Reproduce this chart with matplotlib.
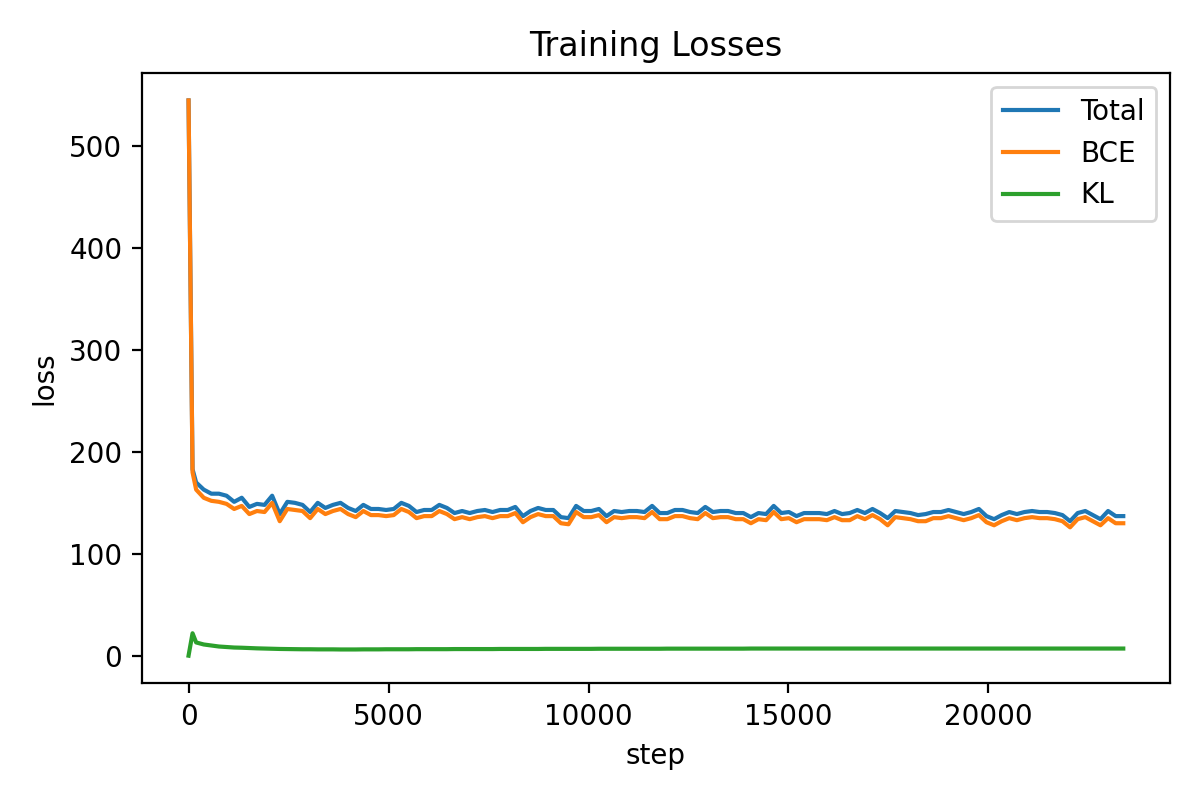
import matplotlib
matplotlib.use("Agg")
import matplotlib.pyplot as plt

# logged steps (0, 100, then every 190)
steps = [0, 100] + list(range(190, 23371, 190))

total_loss = [
    545, 183, 170, 163, 159, 159, 157, 151, 155, 146,
    149, 148, 157, 139, 151, 150, 148, 141, 150, 145,
    148, 150, 145, 142, 148, 144, 144, 143, 144, 150,
    147, 141, 143, 143, 148, 145, 140, 142, 140, 142,
    143, 141, 143, 143, 146, 137, 142, 145, 143, 143,
    136, 135, 147, 142, 142, 144, 137, 142, 141, 142,
    142, 141, 147, 140, 140, 143, 143, 141, 140, 146,
    141, 142, 142, 140, 140, 136, 140, 139, 147, 140,
    141, 137, 140, 140, 140, 139, 142, 139, 140, 143,
    140, 144, 140, 135, 142, 141, 140, 138, 139, 141,
    141, 143, 141, 139, 141, 144, 137, 134, 138, 141,
    139, 141, 142, 141, 141, 140, 138, 132, 140, 142,
    138, 134, 142, 137, 137,
]

bce_loss = [
    545, 180, 163, 155, 152, 151, 149, 144, 147, 139,
    142, 141, 150, 132, 144, 143, 142, 135, 144, 139,
    142, 144, 139, 136, 142, 138, 138, 137, 138, 144,
    141, 135, 137, 137, 142, 139, 134, 136, 134, 136,
    137, 135, 137, 137, 140, 131, 136, 139, 137, 137,
    130, 129, 141, 136, 136, 138, 131, 136, 135, 136,
    136, 135, 141, 134, 134, 137, 137, 135, 134, 140,
    135, 136, 136, 134, 134, 130, 134, 133, 141, 134,
    135, 131, 134, 134, 134, 133, 136, 133, 133, 137,
    134, 138, 134, 128, 136, 135, 134, 132, 132, 135,
    135, 137, 135, 133, 135, 138, 131, 128, 132, 135,
    133, 135, 136, 135, 135, 134, 132, 126, 134, 136,
    132, 128, 135, 130, 130,
]

kl_loss = [
    0.0, 22.0, 13.0, 11.0, 10.0, 9.0, 8.5, 8.0, 7.8, 7.5,
    7.2, 7.0, 6.8, 6.6, 6.5, 6.4, 6.3, 6.3, 6.2, 6.2,
    6.2, 6.1, 6.1, 6.1, 6.2, 6.2, 6.2, 6.3, 6.3, 6.3,
    6.3, 6.4, 6.4, 6.4, 6.4, 6.4, 6.5, 6.5, 6.5, 6.5,
    6.5, 6.5, 6.6, 6.6, 6.6, 6.6, 6.6, 6.6, 6.7, 6.7,
    6.7, 6.7, 6.7, 6.7, 6.7, 6.8, 6.8, 6.8, 6.8, 6.8,
    6.8, 6.8, 6.8, 6.8, 6.9, 6.9, 6.9, 6.9, 6.9, 6.9,
    6.9, 6.9, 6.9, 6.9, 6.9, 7.0, 7.0, 7.0, 7.0, 7.0,
    7.0, 7.0, 7.0, 7.0, 7.0, 7.0, 7.0, 7.0, 7.0, 7.0,
    7.0, 7.0, 7.0, 7.0, 7.0, 7.0, 7.0, 7.0, 7.0, 7.0,
    7.0, 7.0, 7.0, 7.0, 7.0, 7.0, 7.0, 7.0, 7.0, 7.0,
    7.0, 7.0, 7.0, 7.0, 7.0, 7.0, 7.0, 7.0, 7.0, 7.0,
    7.0, 7.0, 7.0, 7.0, 7.0,
]

fig, ax = plt.subplots(figsize=(6, 4), dpi=200)
ax.plot(steps, total_loss, label='Total')
ax.plot(steps, bce_loss, label='BCE')
ax.plot(steps, kl_loss, label='KL')
ax.set_xlabel('step')
ax.set_ylabel('loss')
ax.set_title('Training Losses')
ax.legend()
fig.tight_layout()
fig.savefig('out.png', dpi=200)
